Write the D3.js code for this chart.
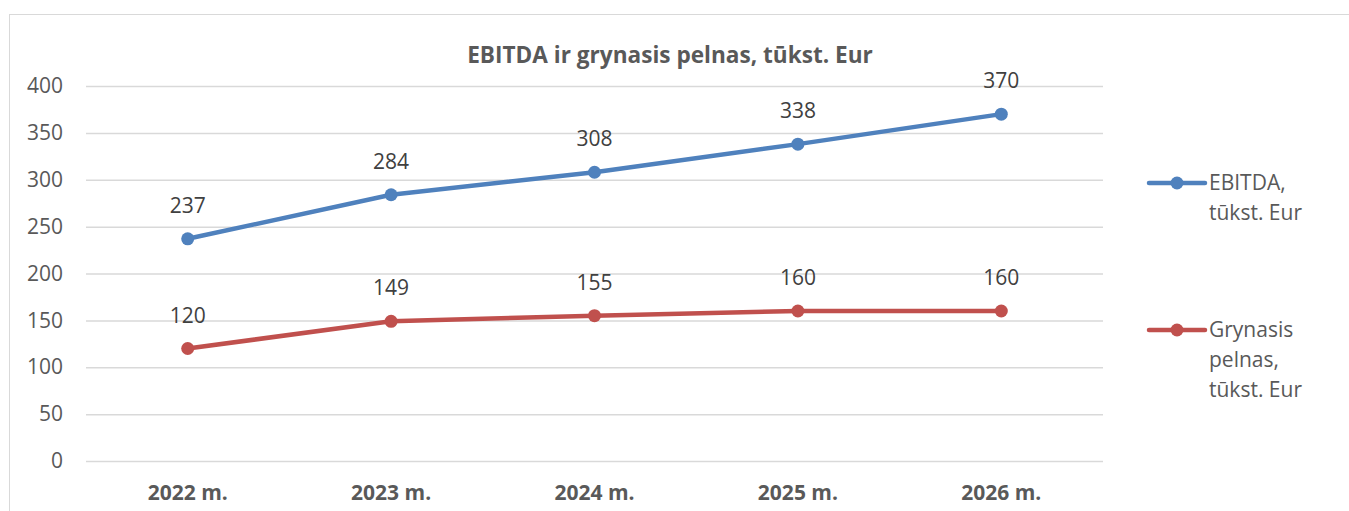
<!DOCTYPE html>
<html lang="en">
<head>
  <meta charset="utf-8">
  <title>EBITDA ir grynasis pelnas</title>
  <style>
    body { margin: 0; background: #fff; }
    svg { display: block; font-family: "Open Sans", sans-serif; }
  </style>
</head>
<body>
  <div id="chart"></div>

  <script src="https://d3js.org/d3.v7.min.js"></script>
  <script type="text/javascript">
    const years = ['2022 m.', '2023 m.', '2024 m.', '2025 m.', '2026 m.'];
    const ebitda = [237, 284, 308, 338, 370];
    const netProfit = [120, 149, 155, 160, 160];
    const yTicks = [0, 50, 100, 150, 200, 250, 300, 350, 400];
    const seriesNames = [['EBITDA,', 'tūkst. Eur'], ['Grynasis', 'pelnas,', 'tūkst. Eur']];
    const title = 'EBITDA ir grynasis pelnas, tūkst. Eur';

    const width = 1349;
    const height = 511;
    const margin = { top: 86, right: 246, bottom: 50, left: 86 };

    const series = [
      { name: seriesNames[0], values: ebitda, color: '#4f81bd', legendY: 183 },
      { name: seriesNames[1], values: netProfit, color: '#c0504d', legendY: 330 }
    ];

    const x = d3.scaleBand()
      .domain(years)
      .range([margin.left, width - margin.right]);
    const y = d3.scaleLinear()
      .domain([0, 400])
      .range([height - margin.bottom, margin.top]);

    const svg = d3.select('#chart').append('svg')
      .attr('width', width)
      .attr('height', height)
      .attr('viewBox', [0, 0, width, height]);

    // chart frame
    svg.append('rect')
      .attr('x', 9.5).attr('y', 14.5)
      .attr('width', width).attr('height', height)
      .attr('fill', 'none')
      .attr('stroke', '#d9d9d9');

    svg.append('text')
      .attr('x', 670).attr('y', 63)
      .attr('text-anchor', 'middle')
      .attr('font-size', 22.6)
      .attr('font-weight', 'bold')
      .attr('fill', '#595959')
      .text(title);

    // gridlines + y labels
    const yAxis = d3.axisLeft(y)
      .tickValues(yTicks)
      .tickSize(-(width - margin.left - margin.right))
      .tickPadding(23);
    const gy = svg.append('g')
      .attr('transform', `translate(${margin.left},0)`)
      .call(yAxis);
    gy.select('.domain').remove();
    gy.selectAll('.tick line').attr('stroke', '#d9d9d9').attr('stroke-width', 1.5);
    gy.selectAll('.tick text')
      .attr('font-size', 21)
      .attr('font-family', '"Open Sans", sans-serif')
      .attr('fill', '#595959');

    const xAxis = d3.axisBottom(x).tickSize(0).tickPadding(24);
    const gx = svg.append('g')
      .attr('transform', `translate(0,${height - margin.bottom})`)
      .call(xAxis);
    gx.select('.domain').remove();
    gx.selectAll('.tick text')
      .attr('font-size', 21)
      .attr('font-weight', 'bold')
      .attr('font-family', '"Open Sans", sans-serif')
      .attr('fill', '#595959');

    const cx = d => x(d) + x.bandwidth() / 2;
    const line = d3.line()
      .x((d, i) => cx(years[i]))
      .y(d => y(d));

    series.forEach(s => {
      const g = svg.append('g');
      g.append('path')
        .datum(s.values)
        .attr('d', line)
        .attr('fill', 'none')
        .attr('stroke', s.color)
        .attr('stroke-width', 4.5)
        .attr('stroke-linejoin', 'round')
        .attr('stroke-linecap', 'round');
      g.selectAll('circle')
        .data(s.values)
        .join('circle')
        .attr('cx', (d, i) => cx(years[i]))
        .attr('cy', d => y(d))
        .attr('r', 6.5)
        .attr('fill', s.color);
      g.selectAll('text')
        .data(s.values)
        .join('text')
        .attr('x', (d, i) => cx(years[i]))
        .attr('y', d => y(d) - 26)
        .attr('text-anchor', 'middle')
        .attr('font-size', 21)
        .attr('fill', '#404040')
        .text(d => d);

      // legend
      const lg = svg.append('g').attr('transform', `translate(1149,${s.legendY})`);
      lg.append('line')
        .attr('x1', 0).attr('x2', 56)
        .attr('stroke', s.color)
        .attr('stroke-width', 4.5)
        .attr('stroke-linecap', 'round');
      lg.append('circle').attr('cx', 28).attr('r', 6.5).attr('fill', s.color);
      lg.selectAll('text')
        .data(s.name)
        .join('text')
        .attr('x', 60)
        .attr('y', (d, i) => 7 + i * 30)
        .attr('font-size', 21)
        .attr('fill', '#595959')
        .text(d => d);
    });
  </script>
</body>
</html>
